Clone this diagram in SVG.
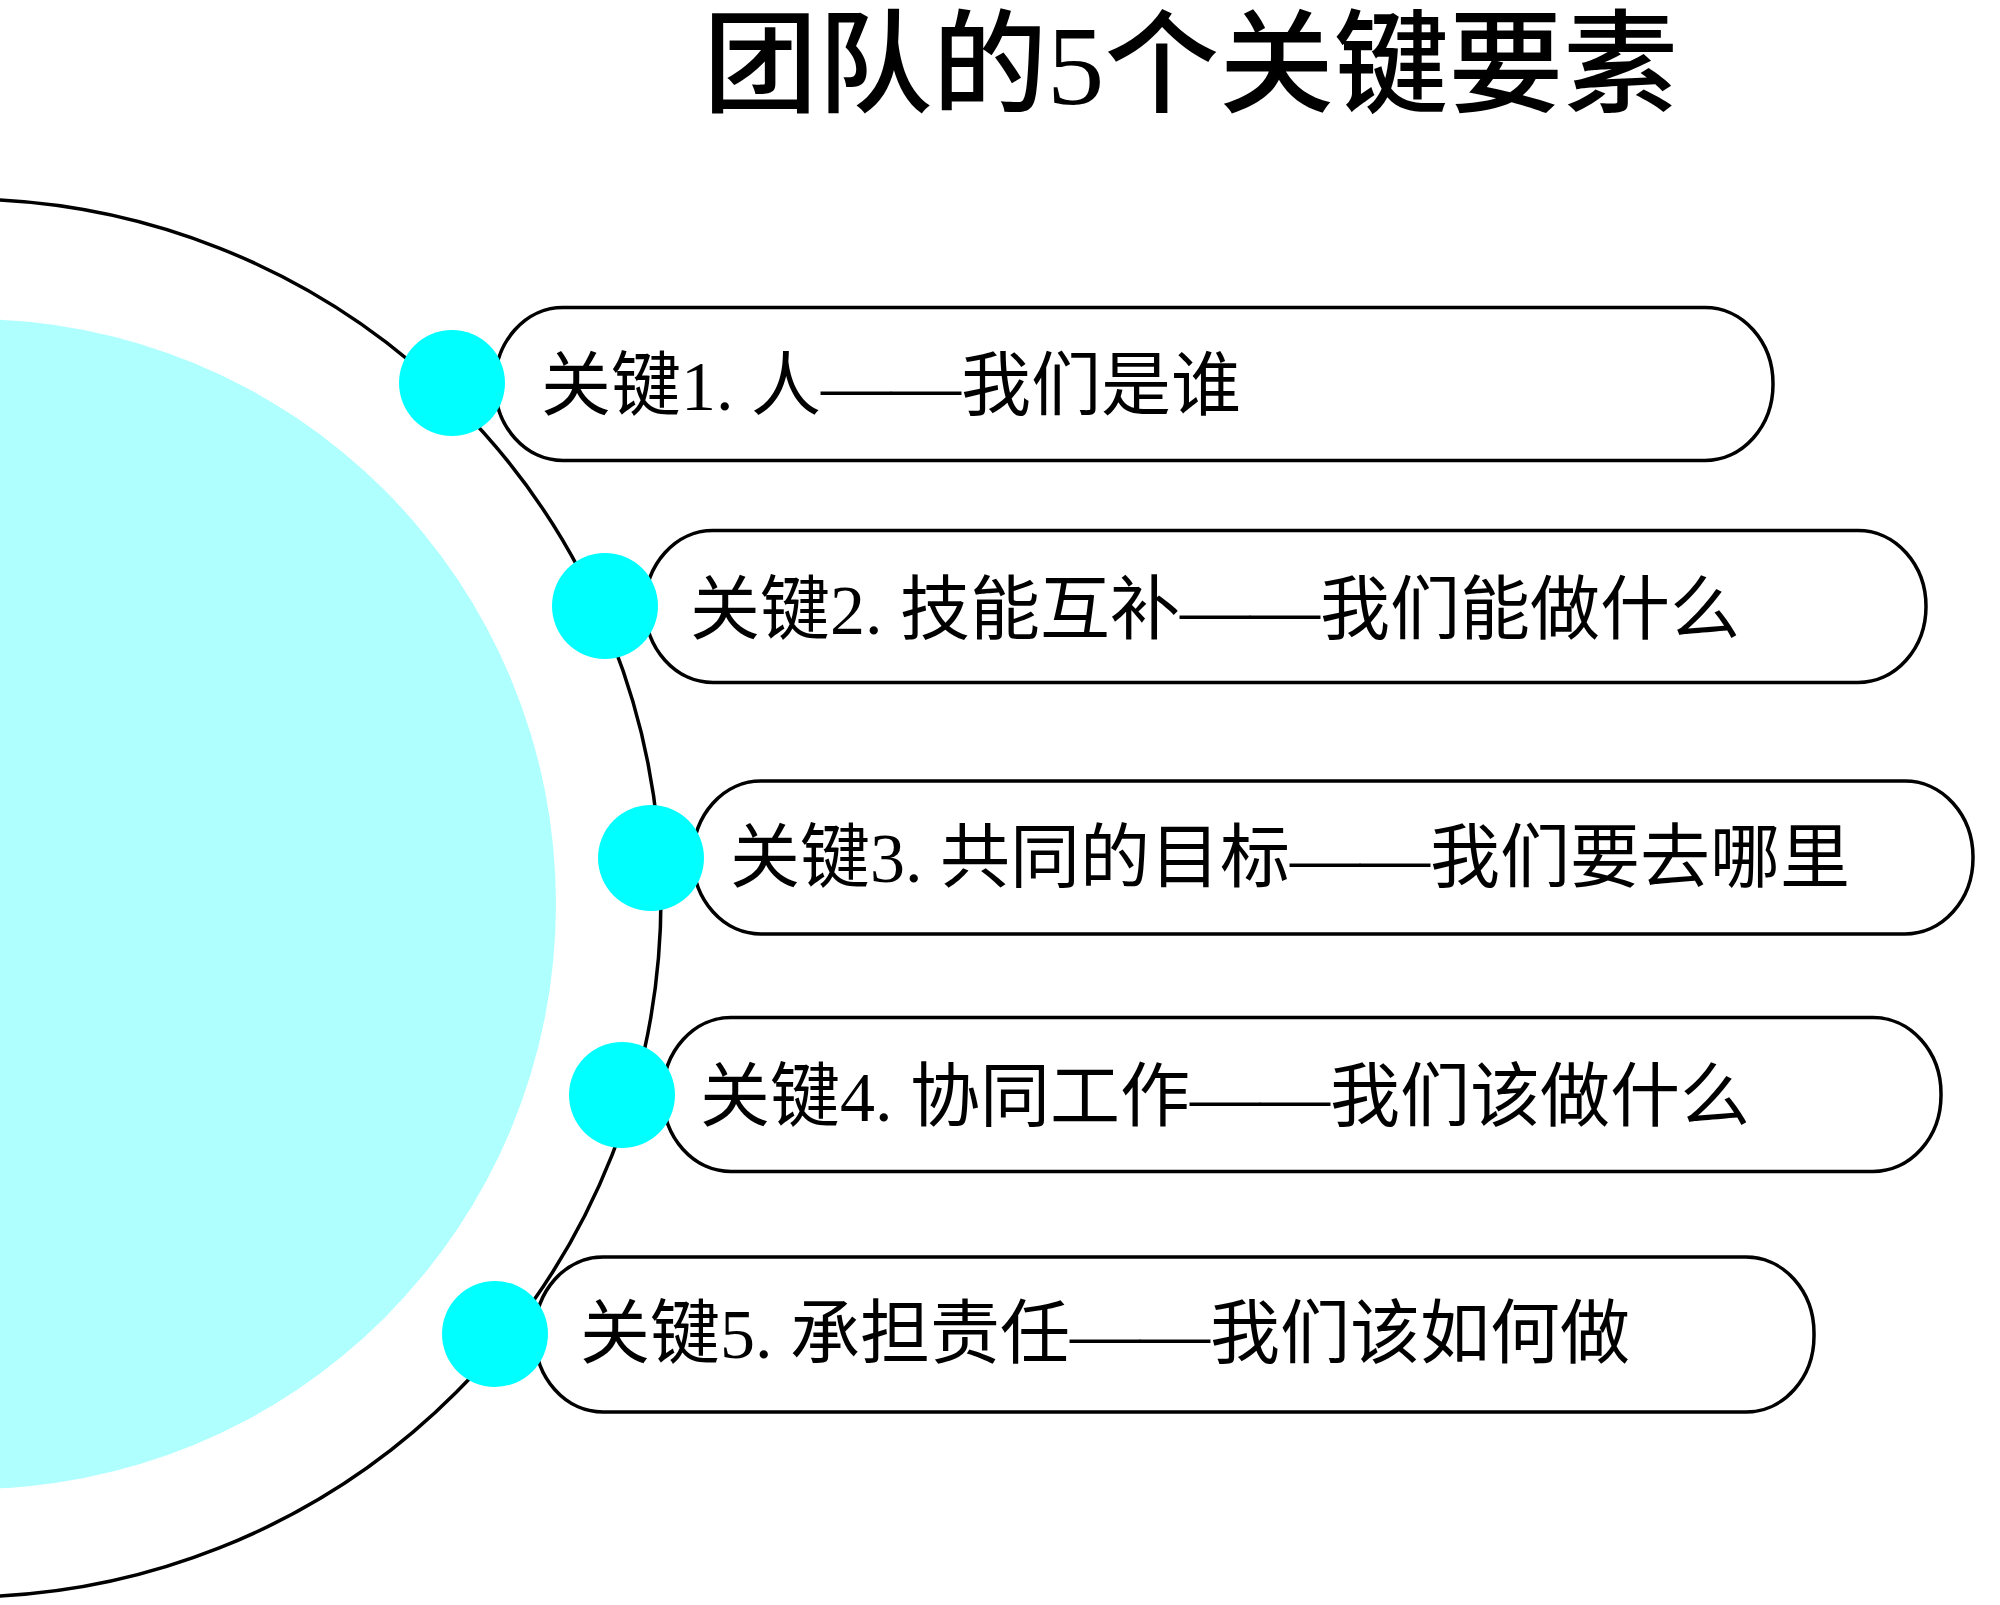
<svg xmlns="http://www.w3.org/2000/svg" width="2000" height="1605" viewBox="0 0 2000 1605">
  <style>
    .pill { fill: none; stroke: #000; stroke-width: 3.5; }
    .dot { fill: #00FFFF; }
    .label { font-family: "Liberation Serif", "Noto Sans CJK SC", serif; font-size: 70px; fill: #000; }
    .title { font-family: "Liberation Serif", "Noto Sans CJK SC", serif; font-size: 112px; font-weight: 500; fill: #000; }
  </style>
  <rect x="0" y="0" width="2000" height="1605" fill="#FFFFFF"/>
  <g id="background">
    <circle cx="-29" cy="904" r="585" fill="#AFFFFF"/>
  </g>
  <g id="connectors">
    <circle cx="-38" cy="898" r="699" fill="none" stroke="#000" stroke-width="3.5"/>
  </g>
  <g id="title">
    <text class="title" x="703" y="104" textLength="975" lengthAdjust="spacingAndGlyphs">团队的5个关键要素</text>
  </g>
  <g id="key1">
    <rect class="pill" x="495" y="307.5" width="1278" height="153" rx="68" ry="76"/>
    <circle class="dot" cx="452" cy="383" r="53"/>
    <text class="label" x="541" y="410">关键1.<tspan x="751">人——我们是谁</tspan></text>
  </g>
  <g id="key2">
    <rect class="pill" x="645" y="530.5" width="1281" height="152" rx="68" ry="76"/>
    <circle class="dot" cx="605" cy="606" r="53"/>
    <text class="label" x="690" y="634">关键2.<tspan x="900">技能互补——我们能做什么</tspan></text>
  </g>
  <g id="key3">
    <rect class="pill" x="693" y="781" width="1280" height="153" rx="68" ry="76"/>
    <circle class="dot" cx="651" cy="858" r="53"/>
    <text class="label" x="730" y="882">关键3.<tspan x="940">共同的目标——我们要去哪里</tspan></text>
  </g>
  <g id="key4">
    <rect class="pill" x="663" y="1017.5" width="1278" height="154" rx="68" ry="76"/>
    <circle class="dot" cx="622" cy="1095" r="53"/>
    <text class="label" x="700" y="1121">关键4.<tspan x="910">协同工作——我们该做什么</tspan></text>
  </g>
  <g id="key5">
    <rect class="pill" x="535" y="1257" width="1279" height="155" rx="68" ry="76"/>
    <circle class="dot" cx="495" cy="1334" r="53"/>
    <text class="label" x="580" y="1358">关键5.<tspan x="790">承担责任——我们该如何做</tspan></text>
  </g>
</svg>
